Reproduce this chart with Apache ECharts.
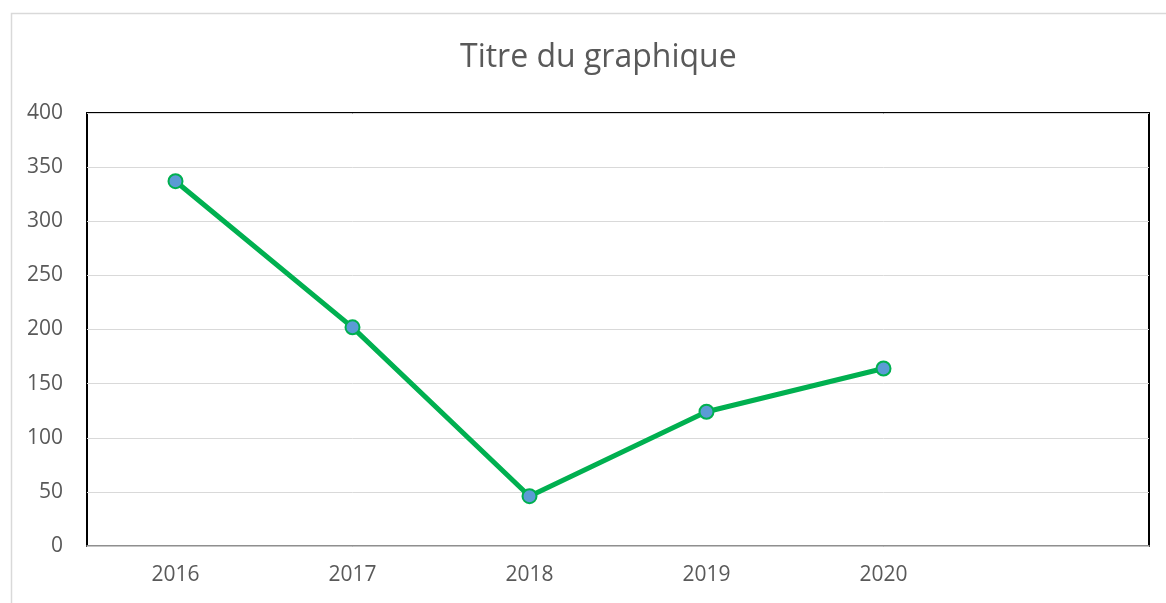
<!DOCTYPE html>
<html>
<head>
<meta charset="utf-8">
<script src="https://cdn.jsdelivr.net/npm/echarts@6/dist/echarts.min.js"></script>
<style>
    html, body { margin: 0; padding: 0; background: #fff; }
    #chart { width: 1166px; height: 603px; }
</style>
</head>
<body>
<div id="chart"></div>
<script>
"use strict";
// catégories (la dernière case est vide dans l'original)
const years = ['2016', '2017', '2018', '2019', '2020', ''];
const values = [337, 202, 46, 124, 164];
const yTicks = { min: 0, max: 400, interval: 50 };

(() => {
    let chart = echarts.init(document.getElementById('chart'));
    let font = '"Open Sans", "Noto Sans", sans-serif';
    let option = {
        animation: false,
        backgroundColor: '#fff',
        graphic: [{
            type: 'rect',
            shape: { x: 11.5, y: 13.5, width: 1170, height: 600 },
            style: { fill: 'none', stroke: '#d9d9d9', lineWidth: 1.5 }
        }],
        title: {
            text: 'Titre du graphique',
            left: 455,
            top: 37,
            textStyle: { fontFamily: font, fontSize: 32, fontWeight: 'normal', color: '#595959' }
        },
        grid: {
            left: 87, top: 113, right: 17, bottom: 57,
            show: true,
            borderColor: '#000',
            borderWidth: 2
        },
        xAxis: {
            type: 'category',
            data: years,
            boundaryGap: true,
            axisLine: { lineStyle: { color: '#bfbfbf', width: 1.5 } },
            axisTick: { show: false },
            axisLabel: { color: '#595959', fontFamily: font, fontSize: 21, margin: 19 }
        },
        yAxis: {
            type: 'value',
            min: yTicks.min,
            max: yTicks.max,
            interval: yTicks.interval,
            axisLine: { show: false },
            axisTick: { show: false },
            splitLine: { lineStyle: { color: '#d9d9d9', width: 1 } },
            axisLabel: { color: '#595959', fontFamily: font, fontSize: 21, margin: 24 }
        },
        series: [{
            type: 'line',
            data: values,
            symbol: 'circle',
            symbolSize: 14,
            lineStyle: { color: '#00b050', width: 5 },
            itemStyle: { color: '#5b9bd5', borderColor: '#00b050', borderWidth: 2 }
        }]
    };
    chart.setOption(option);
})();
</script>
</body>
</html>
